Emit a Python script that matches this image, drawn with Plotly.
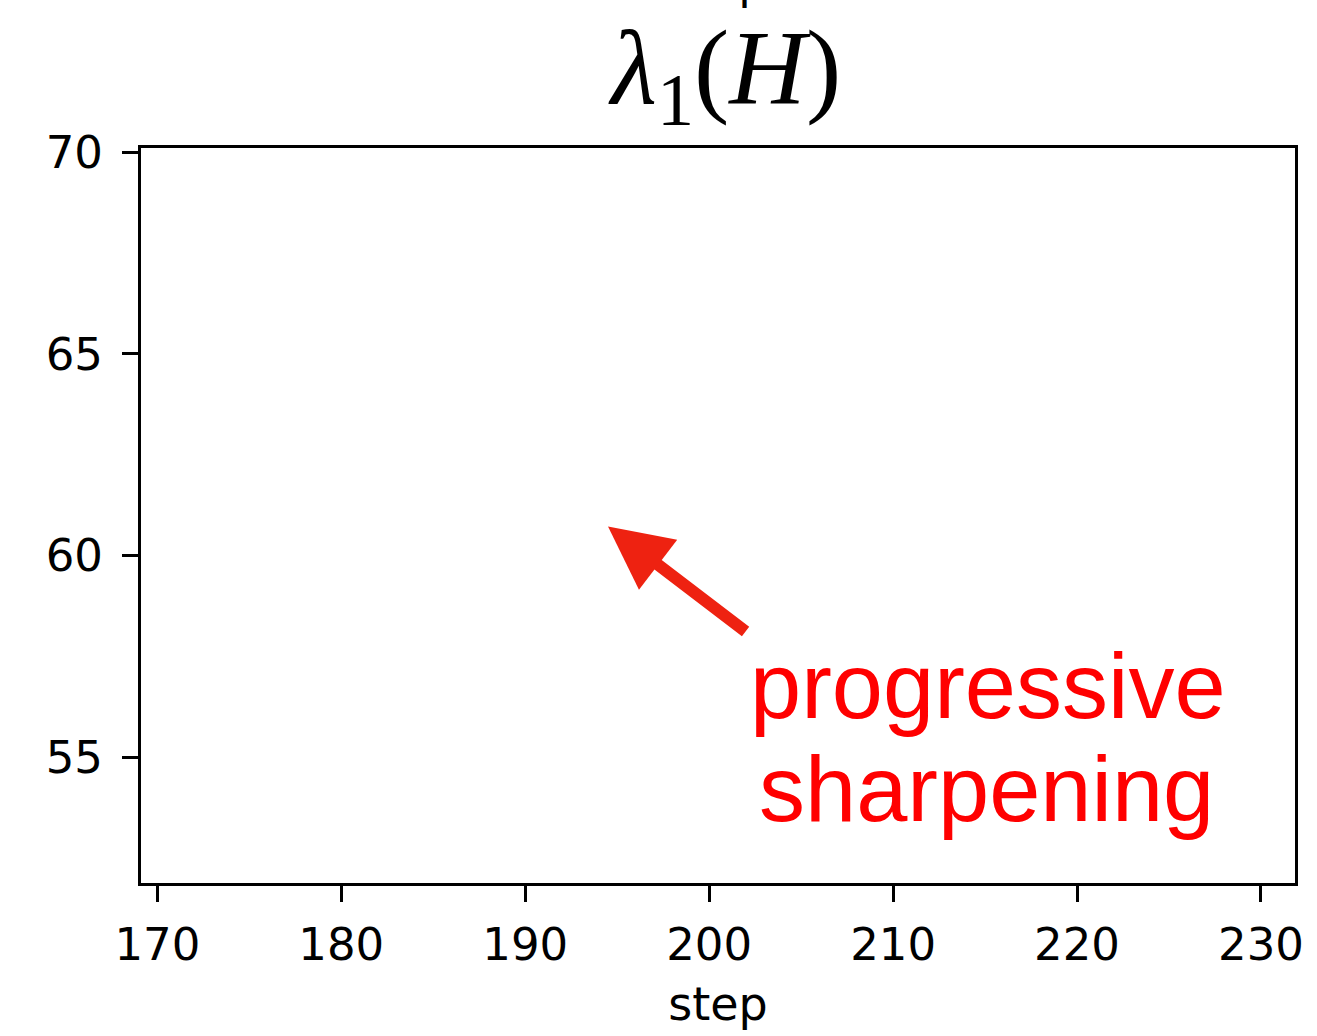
import plotly.graph_objects as go

# Axis ticks and ranges for the leading Hessian eigenvalue panel
x_ticks = [170, 180, 190, 200, 210, 220, 230]
y_ticks = [55, 60, 65, 70]
x_range = [169.11, 231.85]
y_range = [51.89, 70.1]

# Arrow pointing at the rising eigenvalue (tip and tail in data units)
arrow_tip = (194.5, 60.72)
arrow_tail = (202.06, 58.09)

# Caption lines and their anchor points in data units
caption_lines = ["progressive", "sharpening"]
caption_x = [215.16, 215.08]
caption_y = [56.78, 54.22]

W, H = 1317, 1036
fig = go.Figure()

# empty trace so the axes are drawn
fig.add_trace(go.Scatter(x=[], y=[], mode="lines", showlegend=False))

axis_common = dict(
    showline=True, linecolor="black", linewidth=3, mirror=True,
    ticks="outside", ticklen=16, tickwidth=2.5, tickcolor="black",
    showgrid=False, zeroline=False,
    tickfont=dict(family="DejaVu Sans", size=45, color="black"),
)

fig.update_xaxes(range=x_range, tickvals=x_ticks, ticklabelstandoff=4,
                 title=dict(text="step", font=dict(family="DejaVu Sans", size=46, color="black"),
                            standoff=18),
                 **axis_common)
fig.update_yaxes(range=y_range, tickvals=y_ticks, ticklabelstandoff=10, **axis_common)

annotations = []

# title
annotations.append(dict(
    text="<i>λ</i><sub>1</sub>(<i>H</i>)", xref="paper", yref="paper",
    x=(725 - 141) / (1295 - 141), y=1.0, xanchor="center", yanchor="bottom", yshift=5,
    showarrow=False, font=dict(family="Liberation Serif", size=106, color="black"),
))

# x-axis label of the panel above, cut by the top edge
annotations.append(dict(
    text="step", xref="paper", yref="paper", x=0.5, y=1.0, xanchor="center",
    yanchor="bottom", yshift=137, showarrow=False,
    font=dict(family="DejaVu Sans", size=46, color="black"),
))

# arrow
annotations.append(dict(
    text="", x=arrow_tip[0], y=arrow_tip[1], ax=arrow_tail[0], ay=arrow_tail[1],
    xref="x", yref="y", axref="x", ayref="y",
    showarrow=True, arrowhead=2, arrowsize=1.05, arrowwidth=12,
    arrowcolor="rgb(238,34,17)", standoff=0, startstandoff=0,
))

for line, cx, cy in zip(caption_lines, caption_x, caption_y):
    annotations.append(dict(
        text=line, x=cx, y=cy, xref="x", yref="y", xanchor="center", yanchor="middle",
        showarrow=False, font=dict(family="Liberation Sans", size=92, color="#ff0000"),
    ))

fig.update_layout(
    width=W, height=H,
    margin=dict(l=141, r=W - 1295, t=148, b=H - 883),
    plot_bgcolor="white", paper_bgcolor="white",
    annotations=annotations,
    showlegend=False,
)

fig.write_html("out.html", config={"displayModeBar": False})
